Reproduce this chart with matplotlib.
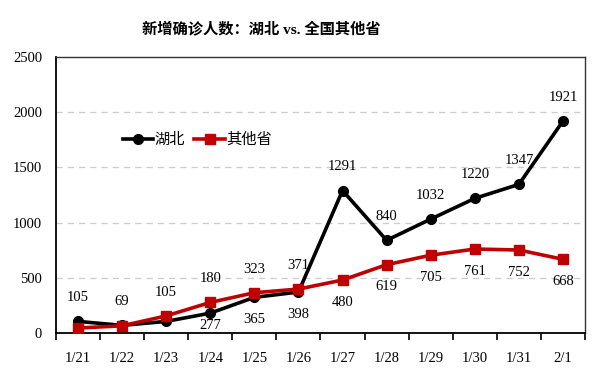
import matplotlib
matplotlib.use("Agg")
import matplotlib.pyplot as plt
import numpy as np

plt.rcParams['font.family'] = ['Liberation Serif', 'Noto Sans CJK SC']

days = ["1/21", "1/22", "1/23", "1/24", "1/25", "1/26",
        "1/27", "1/28", "1/29", "1/30", "1/31", "2/1"]
hubei = [105, 69, 105, 180, 323, 371, 1291, 840, 1032, 1220, 1347, 1921]
others = [45, 65, 155, 277, 365, 398, 480, 619, 705, 761, 752, 668]
show_other = [False, False, False, True, True, True,
              True, True, True, True, True, True]

fig = plt.figure(figsize=(6, 3.76), dpi=100)
ax = fig.add_axes([0.0933, 0.1144, 0.8817, 0.7336])

x = np.arange(len(days))
ax.plot(x, hubei, color="black", lw=2.6, marker="o", ms=7, label="湖北", zorder=3)
ax.plot(x, others, color="#C00000", lw=2.6, marker="s", ms=7, label="其他省", zorder=4)

# labels: Hubei value above the upper point, other value below the lower point
for i in range(len(days)):
    top = max(hubei[i], others[i])
    low = min(hubei[i], others[i])
    ax.annotate(str(hubei[i]), (x[i], top), xytext=(0, 17), textcoords="offset points",
                ha="center", va="center", fontsize=10.5)
    if show_other[i]:
        dy = -9 if low < 250 else -16
        ax.annotate(str(others[i]), (x[i], low), xytext=(0, dy), textcoords="offset points",
                    ha="center", va="center", fontsize=10.5)

ax.set_xlim(-0.5, len(days) - 0.5)
ax.set_ylim(0, 2500)
ax.set_yticks([0, 500, 1000, 1500, 2000, 2500])
ax.set_xticks(x)
ax.set_xticklabels(days)
ax.set_xticks(np.arange(len(days) + 1) - 0.5, minor=True)
ax.tick_params(axis="x", which="major", length=0, pad=14, labelsize=10.5)
ax.tick_params(axis="x", which="minor", length=5, width=1.2, direction="out")
ax.tick_params(axis="y", length=0, pad=10, labelsize=10.5)

for v in [500, 1000, 1500, 2000]:
    ax.axhline(v, color="#cccccc", lw=0.9, ls=(0, (5, 4)), zorder=1)

for s in ["top", "right"]:
    ax.spines[s].set_linewidth(1.0)
    ax.spines[s].set_color("#333333")
for s in ["left", "bottom"]:
    ax.spines[s].set_linewidth(1.3)

ax.legend(loc="center left", bbox_to_anchor=(0.1, 0.70), ncol=2, frameon=False,
          handlelength=2.0, handletextpad=0.1, columnspacing=0.6, fontsize=11)

fig.text(0.435, 0.92, "新增确诊人数：湖北 vs. 全国其他省", ha="center", va="center",
         fontsize=11, fontweight="bold")

fig.savefig("out.png", dpi=100)
